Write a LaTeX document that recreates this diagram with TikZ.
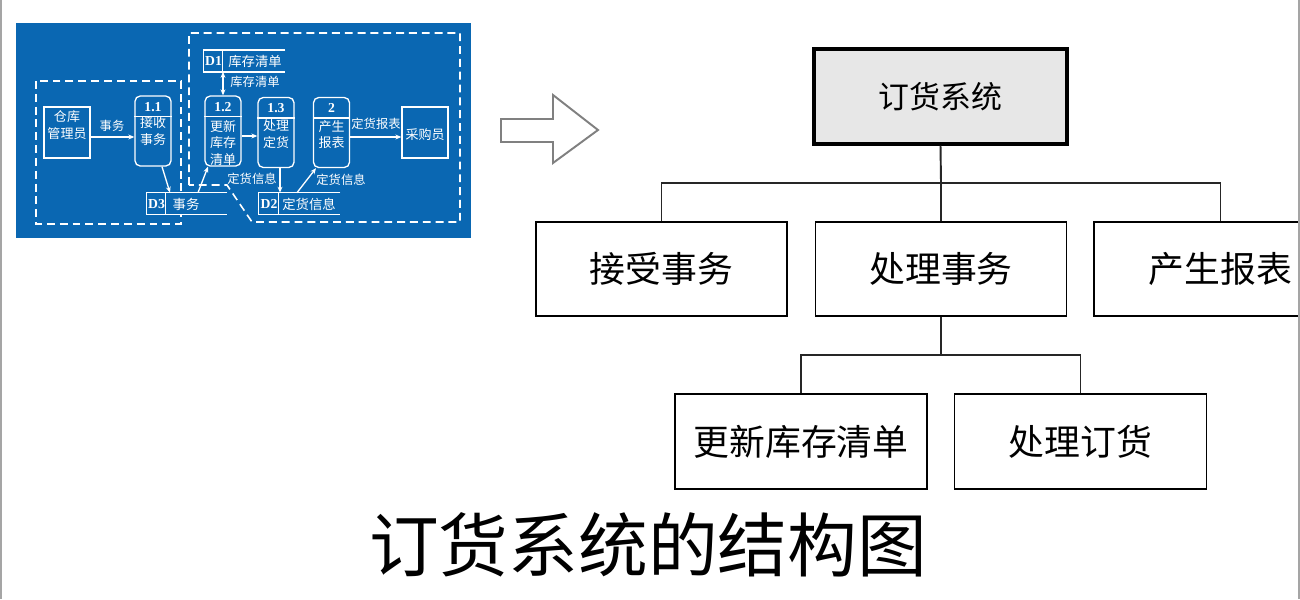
\documentclass[tikz,border=0pt]{standalone}
\usepackage{fontspec}
\setmainfont{Liberation Serif}
\newfontfamily\cjk{Noto Sans CJK SC}
\usetikzlibrary{arrows.meta}
\definecolor{dfdblue}{RGB}{10,103,178}
\definecolor{rootfill}{RGB}{231,231,231}
\definecolor{framegray}{RGB}{165,165,165}
\definecolor{arrowgray}{RGB}{128,128,128}
\newcommand{\pxl}[1]{#1*0.02cm}
\tikzset{
 x=0.02cm, y=-0.02cm,
 chartbox/.style={draw=black, line width=1.1pt, fill=white, minimum width=\pxl{251}, minimum height=\pxl{94}, inner sep=0, font=\cjk\fontsize{20.4}{24}\selectfont},
 rootbox/.style={chartbox, fill=rootfill, line width=1.9pt, minimum width=\pxl{253}, minimum height=\pxl{95}, font=\cjk\fontsize{17.6}{21}\selectfont},
 chartline/.style={line width=1.1pt, draw=black!85},
 dfdline/.style={draw=white, line width=0.75pt},
 dfddash/.style={draw=white, line width=0.9pt, dash pattern=on 4.5pt off 2.8pt},
 dfdarrow/.style={dfdline, -{Stealth[length=3.4pt,width=2.8pt]}},
 dfdarrows/.style={dfdline, {Stealth[length=3.4pt,width=2.8pt]}-{Stealth[length=3.4pt,width=2.8pt]}},
 proc/.style={dfdline, rounded corners=3pt, minimum width=\pxl{36}, minimum height=\pxl{70}, inner sep=0},
 entity/.style={dfdline, minimum width=\pxl{46}, minimum height=\pxl{51}, inner sep=0},
 dtext/.style={text=white, font=\cjk\fontsize{7.4}{9.6}\selectfont, inner sep=0, align=center},
 dlabel/.style={text=white, font=\cjk\fontsize{7}{8}\selectfont, inner sep=0},
 dnum/.style={text=white, font=\bfseries\fontsize{7.8}{9}\selectfont, inner sep=0},
 storebox/.style={inner sep=0, minimum height=\pxl{21}},
 titletext/.style={font=\cjk\fontsize{39.7}{44}\selectfont, inner sep=0},
 bigarrow/.style={draw=arrowgray, line width=1.1pt, fill=white, line join=miter},
}
\begin{document}
\begin{tikzpicture}
\useasboundingbox (0,0) rectangle (1300,599);
\begin{scope}
\clip (0,0) rectangle (1299,599);

% ---------- DFD picture ----------
\fill[dfdblue] (16,23) rectangle (471,238);
\draw[dfddash] (36,81) rectangle (181,224);
\draw[dfddash] (189,185) -- (189,33) -- (460,33) -- (460,222) -- (252,222) -- (227,185) -- cycle;

% stores
\node[storebox, minimum width=\pxl{81}] (d1) at (244.5,61) {};
\fill[dfdblue] (d1.north west) rectangle (d1.south east);
\draw[dfdline] (d1.north east) -- (d1.north west) -- (d1.south west) -- (d1.south east);
\draw[dfdline] ([xshift=\pxl{19}]d1.north west) -- ([xshift=\pxl{19}]d1.south west);
\node[dnum] (d1n) at (213.5,61) {D1};
\node[dlabel, font=\cjk\fontsize{7.6}{9}\selectfont] (d1t) at (255,61) {库存清单};

\node[storebox, minimum width=\pxl{80}] (d3) at (187,203.5) {};
\fill[dfdblue] (d3.north west) rectangle (d3.south east);
\draw[dfdline] (d3.north east) -- (d3.north west) -- (d3.south west) -- (d3.south east);
\draw[dfdline] ([xshift=\pxl{19}]d3.north west) -- ([xshift=\pxl{19}]d3.south west);
\node[dnum] (d3n) at (156.5,204) {D3};
\node[dlabel, font=\cjk\fontsize{7.6}{9}\selectfont] (d3t) at (186,204) {事务};

\node[storebox, minimum width=\pxl{81}] (d2) at (299.5,203.5) {};
\fill[dfdblue] (d2.north west) rectangle (d2.south east);
\draw[dfdline] (d2.north east) -- (d2.north west) -- (d2.south west) -- (d2.south east);
\draw[dfdline] ([xshift=\pxl{20}]d2.north west) -- ([xshift=\pxl{20}]d2.south west);
\node[dnum] (d2n) at (269,204) {D2};
\node[dlabel, font=\cjk\fontsize{7.6}{9}\selectfont] (d2t) at (309,204) {定货信息};

% entities
\node[entity] (e1) at (67,132.5) {};
\node[dtext] (e1t) at (67,125) {仓库\\管理员};
\node[entity] (e2) at (425,132.5) {};
\node[dtext] (e2t) at (425,135) {采购员};

% processes
\node[proc] (p11) at (153,131) {};
\draw[dfdline] ([yshift=-\pxl{21}]p11.north west) -- ([yshift=-\pxl{21}]p11.north east);
\node[dnum] (p11n) at (153,107) {1.1};
\node[dtext] (p11t) at (153,131.5) {接收\\事务};

\node[proc] (p12) at (223,131) {};
\draw[dfdline] ([yshift=-\pxl{21}]p12.north west) -- ([yshift=-\pxl{21}]p12.north east);
\node[dnum] (p12n) at (223,107) {1.2};
\node[dtext] (p12t) at (223,143) {更新\\库存\\清单};

\node[proc] (p13) at (276,132.5) {};
\draw[dfdline] ([yshift=-\pxl{21}]p13.north west) -- ([yshift=-\pxl{21}]p13.north east);
\node[dnum] (p13n) at (276,108) {1.3};
\node[dtext] (p13t) at (276,134.5) {处理\\定货};

\node[proc] (p2) at (331.5,132.5) {};
\draw[dfdline] ([yshift=-\pxl{21}]p2.north west) -- ([yshift=-\pxl{21}]p2.north east);
\node[dnum] (p2n) at (331.5,108) {2};
\node[dtext] (p2t) at (331.5,134.5) {产生\\报表};

% flows
\draw[dfdarrow] (e1.east |- 0,137) -- (p11.west |- 0,137);
\node[dlabel] (l1) at (112,126) {事务};
\draw[dfdarrows] (d1.south -| p12.north) -- (p12.north);
\node[dlabel] (l2) at (255,82) {库存清单};
\draw[dfdarrow] (p12.east |- 0,136) -- (p13.west |- 0,136);
\draw[dfdarrow] (p2.east |- 0,137) -- (e2.west |- 0,137);
\node[dlabel] (l3) at (376,124) {定货报表};
\draw[dfdarrow] (p11.south -| 162,0) -- (d3.north -| 170,0);
\draw[dfdarrow] (d3.north -| 198,0) -- (p12.south -| 208,0);
\draw[dfdarrow] (p13.south -| 280,0) -- (d2.north -| 280,0);
\node[dlabel] (l4) at (252,179) {定货信息};
\draw[dfdarrow] (d2.north -| 297,0) -- (p2.south -| 316,0);
\node[dlabel] (l5) at (341,180) {定货信息};

% ---------- hollow arrow ----------
\draw[bigarrow] (501,119) -- (553,119) -- (553,95) -- (598,130) -- (553,163) -- (553,142) -- (501,142) -- cycle;

% ---------- structure chart ----------
\node[rootbox] (root) at (940.5,96.5) {订货系统};
\node[chartbox] (a) at (661.5,269) {接受事务};
\node[chartbox] (b) at (941,269) {处理事务};
\node[chartbox, minimum width=\pxl{253}] (c) at (1220.5,269) {产生报表};
\node[chartbox, minimum width=\pxl{252}, minimum height=\pxl{95}] (d) at (801,441.5) {更新库存清单};
\node[chartbox, minimum width=\pxl{252}, minimum height=\pxl{95}] (e) at (1080.5,441.5) {处理订货};
\coordinate (bar1) at (941,183);
\coordinate (bar2) at (941,355);
\draw[chartline] (root.south) -- (bar1) -- (b.north);
\draw[chartline] (a.north) |- (bar1) -| (c.north);
\draw[chartline] (b.south) -- (bar2);
\draw[chartline] (d.north) |- (bar2) -| (e.north);

% ---------- title ----------
\node[titletext] (title) at (648,545) {订货系统的结构图};
\end{scope}

% frame
\draw[framegray, line width=1pt] (0.8,0) -- (0.8,599);
\draw[framegray, line width=1pt] (1299,0) -- (1299,599);
\end{tikzpicture}
\end{document}
